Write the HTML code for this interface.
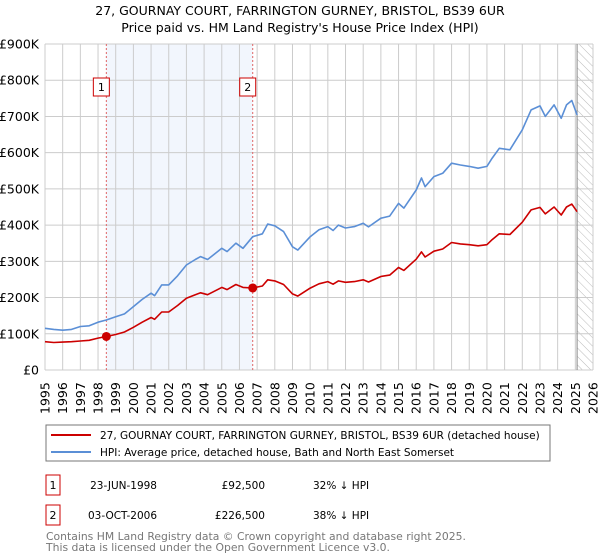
<!DOCTYPE html>
<html><head><meta charset="utf-8"><style>
body{margin:0;background:#fff;}
svg{display:block;font-family:"DejaVu Sans","Liberation Sans",sans-serif;}
</style></head><body>
<svg id="chart" width="600" height="560" viewBox="0 0 600 560">
<text x="300" y="15" text-anchor="middle" font-size="12.5" fill="#000">27, GOURNAY COURT, FARRINGTON GURNEY, BRISTOL, BS39 6UR</text>
<text x="300" y="32" text-anchor="middle" font-size="12.5" fill="#000">Price paid vs. HM Land Registry's House Price Index (HPI)</text>
<defs><pattern id="hatch" width="6" height="6" patternUnits="userSpaceOnUse" patternTransform="rotate(-45)"><line x1="0" y1="0" x2="0" y2="6" stroke="#bbb" stroke-width="1"/></pattern></defs>
<g id="plot"></g>
<rect x="46" y="425" width="504" height="36" fill="#fff" stroke="#777"/>
<line x1="51" y1="435" x2="91" y2="435" stroke="#cc0000" stroke-width="2"/>
<text x="100" y="439" font-size="10.5">27, GOURNAY COURT, FARRINGTON GURNEY, BRISTOL, BS39 6UR (detached house)</text>
<line x1="51" y1="452" x2="91" y2="452" stroke="#5b8fd6" stroke-width="2"/>
<text x="100" y="456" font-size="10.5">HPI: Average price, detached house, Bath and North East Somerset</text>
<g>
<rect x="46" y="475" width="14" height="20" fill="#fff" stroke="#cc0000"/>
<text x="53" y="489" text-anchor="middle" font-size="11">1</text>
<text x="157" y="489" text-anchor="end" font-size="10.5">23-JUN-1998</text>
<text x="265" y="489" text-anchor="end" font-size="10.5">£92,500</text>
<text x="313" y="489" font-size="10.5">32% ↓ HPI</text>
</g>
<g>
<rect x="46" y="505" width="14" height="20" fill="#fff" stroke="#cc0000"/>
<text x="53" y="519" text-anchor="middle" font-size="11">2</text>
<text x="157" y="519" text-anchor="end" font-size="10.5">03-OCT-2006</text>
<text x="265" y="519" text-anchor="end" font-size="10.5">£226,500</text>
<text x="313" y="519" font-size="10.5">38% ↓ HPI</text>
</g>
<text x="46" y="540" font-size="10.8" fill="#777">Contains HM Land Registry data © Crown copyright and database right 2025.</text>
<text x="46" y="551" font-size="10.8" fill="#777">This data is licensed under the Open Government Licence v3.0.</text>
</svg>
<script>
const yearTicks=[1995,1996,1997,1998,1999,2000,2001,2002,2003,2004,2005,2006,2007,2008,2009,2010,2011,2012,2013,2014,2015,2016,2017,2018,2019,2020,2021,2022,2023,2024,2025,2026];
const valueTicks=[0,100,200,300,400,500,600,700,800,900];
const valueTickLabels=["£0","£100K","£200K","£300K","£400K","£500K","£600K","£700K","£800K","£900K"];
const hpiYears=[1995.0,1995.5,1996.0,1996.5,1997.0,1997.5,1998.0,1998.47,1999.0,1999.5,2000.0,2000.5,2001.0,2001.2,2001.6,2002.0,2002.5,2003.0,2003.5,2003.8,2004.2,2005.0,2005.3,2005.8,2006.2,2006.75,2007.3,2007.6,2008.0,2008.5,2009.0,2009.3,2010.0,2010.5,2011.0,2011.3,2011.6,2012.0,2012.5,2013.0,2013.3,2014.0,2014.5,2015.0,2015.3,2016.0,2016.3,2016.5,2017.0,2017.5,2018.0,2018.5,2019.0,2019.5,2020.0,2020.3,2020.7,2021.3,2022.0,2022.5,2023.0,2023.3,2023.8,2024.2,2024.5,2024.8,2025.1];
const hpiValues=[115,112,110,112,120,122,132,138,147,155,175,195,212,205,235,235,260,290,305,313,305,336,327,350,336,368,376,403,398,382,340,331,368,387,396,385,400,392,396,405,395,419,425,460,447,497,530,506,534,543,571,566,562,557,562,585,612,608,663,718,729,700,732,695,732,744,704];
const priceValues=[78,76,77,78,80,82,88,92.5,98,105,118,132,145,140,160,160,178,198,208,213,208,228,222,236,228,226.5,232,249,246,236,210,204,226,238,244,237,246,242,244,249,243,258,262,283,275,306,326,312,328,334,352,348,346,343,346,360,376,374,408,442,449,431,450,428,450,458,437];
const saleYears=[1998.47,2006.75];
const salePrices=[92.5,226.5];
const saleLabels=["1","2"];

const NS="http://www.w3.org/2000/svg";
const X0=45,X1=593,Y0=370,Y1=44;
const xS=y=>X0+(y-1995)/(2026-1995)*(X1-X0);
const yS=v=>Y0-v/900*(Y0-Y1);
const g=document.getElementById('plot');
function mk(t,a,p){const e=document.createElementNS(NS,t);for(const k in a)e.setAttribute(k,a[k]);(p||g).appendChild(e);return e;}
const sh=mk('rect',{x:xS(saleYears[0]),y:Y1,width:xS(saleYears[1])-xS(saleYears[0]),height:Y0-Y1,fill:'#f2f6fd'});


const hx=xS(2025.1);
const ht=mk('rect',{x:hx,y:Y1,width:X1-hx,height:Y0-Y1,fill:'url(#hatch)'});


yearTicks.forEach(yr=>{
  const l=mk('line',{x1:xS(yr),x2:xS(yr),y1:Y1,y2:Y0,stroke:'#ccc','stroke-width':1});
  
  
  const x=xS(yr);
  const t=mk('text',{x:0,y:0,transform:`translate(${x+4.5},414) rotate(-90)`,'font-size':12.5,fill:'#000'});
  t.textContent=yr;
  
  
});
valueTicks.forEach((v,i)=>{
  const l=mk('line',{x1:X0,x2:X1,y1:yS(v),y2:yS(v),stroke:'#ccc','stroke-width':1});
  
  
  const t=mk('text',{x:39,y:yS(v)+4.5,'text-anchor':'end','font-size':12.5,fill:'#000'});
  t.textContent=valueTickLabels[i];
  
  
});
const vl=mk('line',{x1:hx,x2:hx,y1:Y1,y2:Y0,stroke:'#888','stroke-width':1});


saleYears.forEach((sy,i)=>{
  const l=mk('line',{x1:xS(sy),x2:xS(sy),y1:Y1,y2:Y0,stroke:'#e06666','stroke-width':1,'stroke-dasharray':'2,2'});
  
  
  const bx=xS(sy)-11;
  const r=mk('rect',{x:bx-2,y:78,width:16,height:18,fill:'#fff',stroke:'#cc0000'});
  
  
  const t=mk('text',{x:bx+6,y:91,'text-anchor':'middle','font-size':11});
  t.textContent=saleLabels[i];
  
  
});
function line(vals,color,name){
  const d=hpiYears.map((y,i)=>(i?'L':'M')+xS(y).toFixed(1)+','+yS(vals[i]).toFixed(1)).join('');
  const p=mk('path',{d:d,fill:'none',stroke:color,'stroke-width':1.6,'stroke-linejoin':'round'});
  
  
}
line(hpiValues,'#5b8fd6','hpi-line');
line(priceValues,'#cc0000','price-paid-line');
saleYears.forEach((sy,i)=>{
  const c=mk('circle',{cx:xS(sy),cy:yS(salePrices[i]),r:4.5,fill:'#cc0000'});
  
  
});
</script>
</body></html>
